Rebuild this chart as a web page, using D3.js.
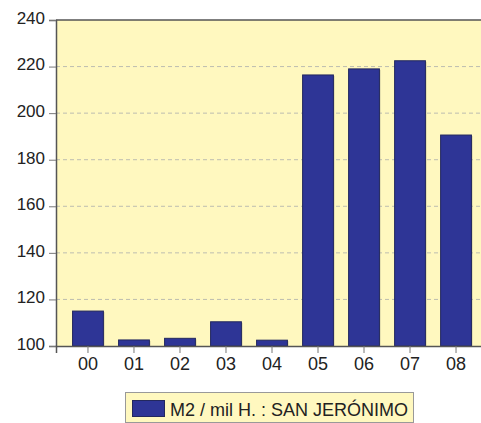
<!DOCTYPE html>
<html><head><meta charset="utf-8">
<script src="https://cdn.jsdelivr.net/npm/d3@7"></script>
<style>body{margin:0;background:#fff}svg{display:block}text{font-family:"Liberation Sans",Arial,sans-serif}</style>
</head><body>
<script>
const categories = ["00","01","02","03","04","05","06","07","08"];
const values = [115.0, 102.6, 103.3, 110.4, 102.5, 216.4, 219.0, 222.5, 190.6];
const yTicks = [100,120,140,160,180,200,220,240];
const seriesName = "M2 / mil H. : SAN JERÓNIMO";

const W = 481, H = 423;
const L = 56, T = 20, R = 488, B = 346;
const svg = d3.select("body").append("svg").attr("width", W).attr("height", H);

const x = d3.scaleBand().domain(categories).range([L, R]).paddingInner(0.33).paddingOuter(0.36);
const y = d3.scaleLinear().domain([100, 240]).range([B, T]);

svg.append("rect").attr("x", L).attr("y", T).attr("width", R - L).attr("height", B - T).attr("fill", "#fff8bf");

// grid
svg.append("g").selectAll("line").data(yTicks.filter(d => d > 100 && d < 240)).join("line")
  .attr("x1", L).attr("x2", R).attr("y1", d => y(d)).attr("y2", d => y(d))
  .attr("stroke", "#bdbdb0").attr("stroke-dasharray", "4,3").attr("stroke-width", 1);

// bars shadow + bars
svg.append("g").selectAll("rect").data(values).join("rect")
  .attr("x", (d, i) => x(categories[i]) + 1).attr("y", d => y(d) + 1)
  .attr("width", x.bandwidth()).attr("height", d => B - y(d) - 1)
  .attr("fill", "#9a9a80").attr("opacity", 0.6);
svg.append("g").selectAll("rect").data(values).join("rect")
  .attr("x", (d, i) => x(categories[i])).attr("y", d => y(d))
  .attr("width", x.bandwidth()).attr("height", d => B - y(d))
  .attr("fill", "#2e3596").attr("stroke", "#23285e").attr("stroke-width", 1);

// frame top
svg.append("line").attr("x1", L).attr("x2", R).attr("y1", T).attr("y2", T).attr("stroke", "#555").attr("stroke-width", 1.5);

// axes
const yAxis = d3.axisLeft(y).tickValues(yTicks).tickSize(7).tickPadding(4);
const gy = svg.append("g").attr("transform", `translate(${L},0)`).call(yAxis);
gy.select(".domain").attr("stroke", "#555").attr("stroke-width", 1.5);
gy.selectAll(".tick line").attr("stroke", "#777");
gy.selectAll("text").attr("font-size", 17).attr("dy", "0.2em").attr("fill", "#222").attr("font-family", "Liberation Sans, Arial, sans-serif");

const xAxis = d3.axisBottom(x).tickSize(7).tickPadding(4);
const gx = svg.append("g").attr("transform", `translate(0,${B})`).call(xAxis);
gx.select(".domain").attr("stroke", "#555").attr("stroke-width", 1.5);
gx.selectAll(".tick line").attr("stroke", "#777");
gx.selectAll("text").attr("font-size", 18).attr("fill", "#222").attr("font-family", "Liberation Sans, Arial, sans-serif");

// legend
const lg = svg.append("g");
lg.append("rect").attr("x", 125.5).attr("y", 392.5).attr("width", 288).attr("height", 30)
  .attr("fill", "#fff8bf").attr("stroke", "#999");
lg.append("rect").attr("x", 132.5).attr("y", 400.5).attr("width", 32).attr("height", 16)
  .attr("fill", "#2e3596").attr("stroke", "#23285e");
lg.append("text").attr("x", 170).attr("y", 416).attr("font-size", 18).attr("fill", "#222").text(seriesName);
</script>
</body></html>
